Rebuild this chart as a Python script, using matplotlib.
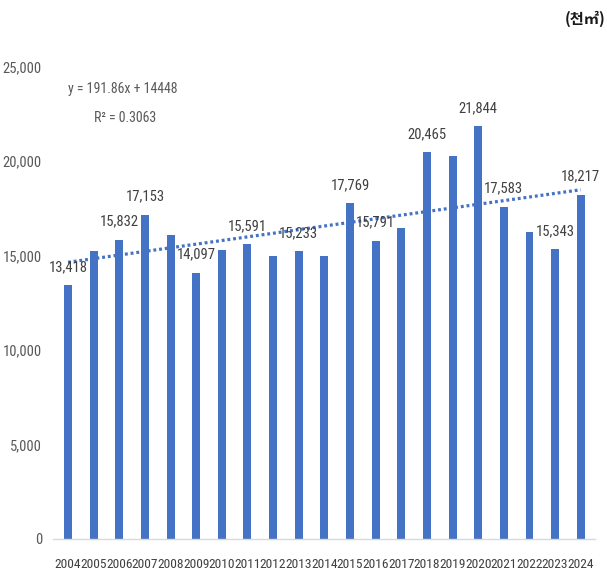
import os
import matplotlib
matplotlib.use("Agg")
import matplotlib.pyplot as plt
from matplotlib import font_manager as fm
import numpy as np

years = ["2004", "2005", "2006", "2007", "2008", "2009", "2010", "2011", "2012", "2013",
         "2014", "2015", "2016", "2017", "2018", "2019", "2020", "2021", "2022", "2023", "2024"]
values = [13418, 15250, 15832, 17153, 16080, 14097, 15290, 15591, 14980, 15233,
          14960, 17769, 15791, 16440, 20465, 20260, 21844, 17583, 16230, 15343, 18217]
labeled_years = ["2004", "2006", "2007", "2009", "2011", "2013", "2015", "2016",
                 "2018", "2020", "2021", "2023", "2024"]
trend_slope = 191.86
trend_intercept = 14448
yticks = [0, 5000, 10000, 15000, 20000, 25000]
unit_text = "(천㎡)"
eq_text = "y = 191.86x + 14448"
r2_text = "R² = 0.3063"

# ---- pick a narrow font if one is installed ----
prefs = ["liberationsansnarrow-regular.ttf", "robotocondensed-regular.ttf",
         "notosans-condensed.ttf", "notosans-condensedregular.ttf",
         "opensans-condensed-regular.ttf", "notosans-semicondensed.ttf",
         "opensans-semicondensed-regular.ttf"]
files = {os.path.basename(f.fname).lower(): f.fname for f in fm.fontManager.ttflist}
narrow_file = None
for p in prefs:
    if p in files:
        narrow_file = files[p]
        break
if narrow_file is None:
    for f in fm.fontManager.ttflist:
        n = (f.name + os.path.basename(f.fname)).lower()
        if (("narrow" in n or "condensed" in n) and "bold" not in n and "italic" not in n
                and "light" not in n and "extra" not in n and "black" not in n
                and "medium" not in n and "thin" not in n):
            narrow_file = f.fname
            break

if narrow_file is not None:
    def NF(size):
        return fm.FontProperties(fname=narrow_file, size=size)
    s_year, s_lab, s_tick, s_eq = 9.6, 10.5, 10.5, 10
else:
    def NF(size):
        return fm.FontProperties(family="Liberation Sans", size=size)
    s_year, s_lab, s_tick, s_eq = 8.2, 9, 9, 8.5

BLUE = "#4472C4"

fig = plt.figure(figsize=(6.07, 5.83), dpi=100)
ax = fig.add_axes([0.0873, 0.0755, 0.8927, 0.8105])

x = np.arange(len(years))
ax.bar(x, values, width=0.31, color=BLUE, zorder=2)

# trend line from displayed equation (x = 1..21)
tx = np.array([0, len(years) - 1])
ty = trend_slope * (tx + 1) + trend_intercept
ax.plot(tx, ty, color=BLUE, lw=2.3, linestyle=(0, (0.9, 0.9)), zorder=3)

for i, (yr, v) in enumerate(zip(years, values)):
    if yr in labeled_years:
        ax.annotate(f"{v:,}", xy=(i, v), xytext=(0, 18), textcoords="offset pixels",
                    ha="center", va="center", fontproperties=NF(s_lab), color="#404040",
                    zorder=4)

ax.set_xlim(-0.585, 20.55)
ax.set_ylim(0, 25000)
ax.set_yticks(yticks)
ax.set_yticklabels([f"{t:,}" for t in yticks], fontproperties=NF(s_tick), color="#595959")
ax.set_xticks(x)
ax.set_xticklabels(years, fontproperties=NF(s_year), color="#404040")
ax.tick_params(axis="both", length=0)
ax.tick_params(axis="y", pad=8)
ax.tick_params(axis="x", pad=14)

for s in ["left", "right", "top"]:
    ax.spines[s].set_visible(False)
ax.spines["bottom"].set_color("#d9d9d9")
ax.spines["bottom"].set_linewidth(1.0)

fig.text(123 / 607, 1 - 89 / 583, eq_text, ha="center", va="center",
         fontproperties=NF(s_eq), color="#595959")
fig.text(125 / 607, 1 - 118 / 583, r2_text, ha="center", va="center",
         fontproperties=NF(s_eq), color="#595959")
fig.text(0.997, 1 - 19 / 583, unit_text, ha="right", va="center", fontsize=11,
         color="#1a1a1a", family=["Noto Sans CJK KR", "DejaVu Sans"], fontweight="bold")

fig.savefig("out.png", dpi=100)
